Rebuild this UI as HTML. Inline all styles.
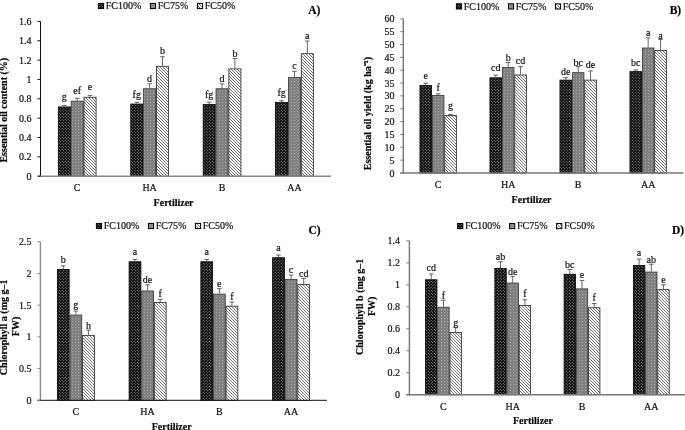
<!DOCTYPE html>
<html><head><meta charset="utf-8"><style>
html,body{margin:0;padding:0;background:#fff;}
text{stroke:#111;stroke-width:0.2px;}
body{filter:grayscale(1) blur(0.3px);width:685px;height:430px;position:relative;overflow:hidden;font-family:"Liberation Serif",serif;}
</style></head><body>
<svg width="685" height="430" viewBox="0 0 685 430" style="position:absolute;left:0;top:0">

<defs>
 <pattern id="pBlack" patternUnits="userSpaceOnUse" width="3" height="3">
   <rect width="3" height="3" fill="#0c0c0c"/>
   <circle cx="0.75" cy="0.75" r="0.5" fill="#b0b0b0"/>
   <circle cx="2.25" cy="2.25" r="0.5" fill="#b0b0b0"/>
 </pattern>
 <pattern id="pGray" patternUnits="userSpaceOnUse" width="3" height="3">
   <rect width="3" height="3" fill="#7c7c7c"/>
   <circle cx="0.75" cy="0.75" r="0.5" fill="#d8d8d8"/>
   <circle cx="2.25" cy="2.25" r="0.35" fill="#a8a8a8"/>
 </pattern>
 <pattern id="pHatch" patternUnits="userSpaceOnUse" width="3" height="3">
   <rect width="3" height="3" fill="#fff"/>
   <path d="M-1,-1 L4,4 M-1,2 L1,4 M2,-1 L4,1" stroke="#383838" stroke-width="0.7"/>
 </pattern>
</defs>

<rect x="58.33" y="106.94" width="12.05" height="69.26" fill="url(#pBlack)" stroke="#000" stroke-width="0.8"/>
<line x1="64.35" y1="106.54" x2="64.35" y2="105.57" stroke="#555" stroke-width="0.9"/>
<line x1="62.05" y1="105.57" x2="66.65" y2="105.57" stroke="#555" stroke-width="0.9"/>
<text x="64.35" y="99.70" font-family='"Liberation Serif", serif' font-size="10" text-anchor="middle" fill="#111">g</text>
<rect x="71.18" y="101.14" width="12.05" height="75.06" fill="url(#pGray)" stroke="#333" stroke-width="0.8"/>
<line x1="77.20" y1="100.73" x2="77.20" y2="98.22" stroke="#555" stroke-width="0.9"/>
<line x1="74.90" y1="98.22" x2="79.50" y2="98.22" stroke="#555" stroke-width="0.9"/>
<text x="77.20" y="94.00" font-family='"Liberation Serif", serif' font-size="10" text-anchor="middle" fill="#111">ef</text>
<rect x="84.03" y="97.27" width="12.05" height="78.93" fill="url(#pHatch)" stroke="#222" stroke-width="0.8"/>
<line x1="90.05" y1="96.87" x2="90.05" y2="95.41" stroke="#555" stroke-width="0.9"/>
<line x1="87.75" y1="95.41" x2="92.35" y2="95.41" stroke="#555" stroke-width="0.9"/>
<text x="90.05" y="89.80" font-family='"Liberation Serif", serif' font-size="10" text-anchor="middle" fill="#111">e</text>
<text x="77.20" y="191.20" font-family='"Liberation Serif", serif' font-size="10" text-anchor="middle" fill="#111">C</text>
<rect x="130.75" y="104.04" width="12.05" height="72.16" fill="url(#pBlack)" stroke="#000" stroke-width="0.8"/>
<line x1="136.77" y1="103.64" x2="136.77" y2="102.19" stroke="#555" stroke-width="0.9"/>
<line x1="134.47" y1="102.19" x2="139.07" y2="102.19" stroke="#555" stroke-width="0.9"/>
<text x="136.77" y="97.70" font-family='"Liberation Serif", serif' font-size="10" text-anchor="middle" fill="#111">fg</text>
<rect x="143.59" y="88.75" width="12.05" height="87.45" fill="url(#pGray)" stroke="#333" stroke-width="0.8"/>
<line x1="149.62" y1="88.35" x2="149.62" y2="83.80" stroke="#555" stroke-width="0.9"/>
<line x1="147.32" y1="83.80" x2="151.92" y2="83.80" stroke="#555" stroke-width="0.9"/>
<text x="149.62" y="81.90" font-family='"Liberation Serif", serif' font-size="10" text-anchor="middle" fill="#111">d</text>
<rect x="156.44" y="66.31" width="12.05" height="109.89" fill="url(#pHatch)" stroke="#222" stroke-width="0.8"/>
<line x1="162.47" y1="65.91" x2="162.47" y2="56.71" stroke="#555" stroke-width="0.9"/>
<line x1="160.17" y1="56.71" x2="164.77" y2="56.71" stroke="#555" stroke-width="0.9"/>
<text x="162.47" y="54.30" font-family='"Liberation Serif", serif' font-size="10" text-anchor="middle" fill="#111">b</text>
<text x="149.62" y="191.20" font-family='"Liberation Serif", serif' font-size="10" text-anchor="middle" fill="#111">HA</text>
<rect x="203.17" y="104.52" width="12.05" height="71.68" fill="url(#pBlack)" stroke="#000" stroke-width="0.8"/>
<line x1="209.19" y1="104.12" x2="209.19" y2="102.19" stroke="#555" stroke-width="0.9"/>
<line x1="206.89" y1="102.19" x2="211.49" y2="102.19" stroke="#555" stroke-width="0.9"/>
<text x="209.19" y="97.70" font-family='"Liberation Serif", serif' font-size="10" text-anchor="middle" fill="#111">fg</text>
<rect x="216.02" y="88.75" width="12.05" height="87.45" fill="url(#pGray)" stroke="#333" stroke-width="0.8"/>
<line x1="222.04" y1="88.35" x2="222.04" y2="83.80" stroke="#555" stroke-width="0.9"/>
<line x1="219.74" y1="83.80" x2="224.34" y2="83.80" stroke="#555" stroke-width="0.9"/>
<text x="222.04" y="82.30" font-family='"Liberation Serif", serif' font-size="10" text-anchor="middle" fill="#111">d</text>
<rect x="228.87" y="68.92" width="12.05" height="107.28" fill="url(#pHatch)" stroke="#222" stroke-width="0.8"/>
<line x1="234.89" y1="68.52" x2="234.89" y2="58.46" stroke="#555" stroke-width="0.9"/>
<line x1="232.59" y1="58.46" x2="237.19" y2="58.46" stroke="#555" stroke-width="0.9"/>
<text x="234.89" y="57.00" font-family='"Liberation Serif", serif' font-size="10" text-anchor="middle" fill="#111">b</text>
<text x="222.04" y="191.20" font-family='"Liberation Serif", serif' font-size="10" text-anchor="middle" fill="#111">B</text>
<rect x="275.58" y="102.59" width="12.05" height="73.61" fill="url(#pBlack)" stroke="#000" stroke-width="0.8"/>
<line x1="281.61" y1="102.19" x2="281.61" y2="100.73" stroke="#555" stroke-width="0.9"/>
<line x1="279.31" y1="100.73" x2="283.91" y2="100.73" stroke="#555" stroke-width="0.9"/>
<text x="281.61" y="95.50" font-family='"Liberation Serif", serif' font-size="10" text-anchor="middle" fill="#111">fg</text>
<rect x="288.44" y="77.43" width="12.05" height="98.77" fill="url(#pGray)" stroke="#333" stroke-width="0.8"/>
<line x1="294.46" y1="77.03" x2="294.46" y2="71.32" stroke="#555" stroke-width="0.9"/>
<line x1="292.16" y1="71.32" x2="296.76" y2="71.32" stroke="#555" stroke-width="0.9"/>
<text x="294.46" y="69.20" font-family='"Liberation Serif", serif' font-size="10" text-anchor="middle" fill="#111">c</text>
<rect x="301.28" y="53.73" width="12.05" height="122.47" fill="url(#pHatch)" stroke="#222" stroke-width="0.8"/>
<line x1="307.31" y1="53.33" x2="307.31" y2="41.04" stroke="#555" stroke-width="0.9"/>
<line x1="305.01" y1="41.04" x2="309.61" y2="41.04" stroke="#555" stroke-width="0.9"/>
<text x="307.31" y="39.30" font-family='"Liberation Serif", serif' font-size="10" text-anchor="middle" fill="#111">a</text>
<text x="294.46" y="191.20" font-family='"Liberation Serif", serif' font-size="10" text-anchor="middle" fill="#111">AA</text>
<line x1="40.50" y1="21.40" x2="40.50" y2="176.20" stroke="#111" stroke-width="1.0"/>
<line x1="38.00" y1="176.20" x2="331.00" y2="176.20" stroke="#888" stroke-width="1.4"/>
<line x1="37.50" y1="176.20" x2="40.50" y2="176.20" stroke="#111" stroke-width="1"/>
<text x="31.50" y="179.70" font-family='"Liberation Serif", serif' font-size="10" text-anchor="end" fill="#111">0</text>
<line x1="37.50" y1="156.85" x2="40.50" y2="156.85" stroke="#111" stroke-width="1"/>
<text x="31.50" y="160.35" font-family='"Liberation Serif", serif' font-size="10" text-anchor="end" fill="#111">0.2</text>
<line x1="37.50" y1="137.50" x2="40.50" y2="137.50" stroke="#111" stroke-width="1"/>
<text x="31.50" y="141.00" font-family='"Liberation Serif", serif' font-size="10" text-anchor="end" fill="#111">0.4</text>
<line x1="37.50" y1="118.15" x2="40.50" y2="118.15" stroke="#111" stroke-width="1"/>
<text x="31.50" y="121.65" font-family='"Liberation Serif", serif' font-size="10" text-anchor="end" fill="#111">0.6</text>
<line x1="37.50" y1="98.80" x2="40.50" y2="98.80" stroke="#111" stroke-width="1"/>
<text x="31.50" y="102.30" font-family='"Liberation Serif", serif' font-size="10" text-anchor="end" fill="#111">0.8</text>
<line x1="37.50" y1="79.45" x2="40.50" y2="79.45" stroke="#111" stroke-width="1"/>
<text x="31.50" y="82.95" font-family='"Liberation Serif", serif' font-size="10" text-anchor="end" fill="#111">1</text>
<line x1="37.50" y1="60.10" x2="40.50" y2="60.10" stroke="#111" stroke-width="1"/>
<text x="31.50" y="63.60" font-family='"Liberation Serif", serif' font-size="10" text-anchor="end" fill="#111">1.2</text>
<line x1="37.50" y1="40.75" x2="40.50" y2="40.75" stroke="#111" stroke-width="1"/>
<text x="31.50" y="44.25" font-family='"Liberation Serif", serif' font-size="10" text-anchor="end" fill="#111">1.4</text>
<line x1="37.50" y1="21.40" x2="40.50" y2="21.40" stroke="#111" stroke-width="1"/>
<text x="31.50" y="24.90" font-family='"Liberation Serif", serif' font-size="10" text-anchor="end" fill="#111">1.6</text>
<rect x="98.40" y="3.40" width="5.2" height="5.2" fill="url(#pBlack)" stroke="#000" stroke-width="1"/>
<text x="105.80" y="9.10" font-family='"Liberation Serif", serif' font-size="10" fill="#111">FC100%</text>
<rect x="150.40" y="3.40" width="5.2" height="5.2" fill="#8c8c8c" stroke="#000" stroke-width="1"/>
<text x="157.80" y="9.10" font-family='"Liberation Serif", serif' font-size="10" fill="#111">FC75%</text>
<rect x="197.40" y="3.40" width="5.2" height="5.2" fill="url(#pHatch)" stroke="#000" stroke-width="1"/>
<text x="204.80" y="9.10" font-family='"Liberation Serif", serif' font-size="10" fill="#111">FC50%</text>
<text x="308.30" y="14.20" font-family='"Liberation Serif", serif' font-size="11.5" font-weight="bold" fill="#000">A)</text>
<text x="153.60" y="205.80" font-family='"Liberation Serif", serif' font-size="10" font-weight="bold" fill="#000">Fertilizer</text>
<text transform="translate(7.30,110.20) rotate(-90)" x="0" y="0" font-family='"Liberation Serif", serif' font-size="10" font-weight="bold" text-anchor="middle" fill="#000">Essential oil content (%)</text>
<rect x="419.95" y="85.51" width="11.60" height="87.49" fill="url(#pBlack)" stroke="#000" stroke-width="0.8"/>
<line x1="425.75" y1="85.11" x2="425.75" y2="83.31" stroke="#555" stroke-width="0.9"/>
<line x1="423.45" y1="83.31" x2="428.05" y2="83.31" stroke="#555" stroke-width="0.9"/>
<text x="425.75" y="78.90" font-family='"Liberation Serif", serif' font-size="10" text-anchor="middle" fill="#111">e</text>
<rect x="432.35" y="95.53" width="11.60" height="77.47" fill="url(#pGray)" stroke="#333" stroke-width="0.8"/>
<line x1="438.15" y1="95.13" x2="438.15" y2="93.84" stroke="#555" stroke-width="0.9"/>
<line x1="435.85" y1="93.84" x2="440.45" y2="93.84" stroke="#555" stroke-width="0.9"/>
<text x="438.15" y="90.90" font-family='"Liberation Serif", serif' font-size="10" text-anchor="middle" fill="#111">f</text>
<rect x="444.75" y="115.58" width="11.60" height="57.42" fill="url(#pHatch)" stroke="#222" stroke-width="0.8"/>
<line x1="450.55" y1="115.18" x2="450.55" y2="114.40" stroke="#555" stroke-width="0.9"/>
<line x1="448.25" y1="114.40" x2="452.85" y2="114.40" stroke="#555" stroke-width="0.9"/>
<text x="450.55" y="109.00" font-family='"Liberation Serif", serif' font-size="10" text-anchor="middle" fill="#111">g</text>
<text x="438.15" y="188.30" font-family='"Liberation Serif", serif' font-size="10" text-anchor="middle" fill="#111">C</text>
<rect x="489.95" y="77.80" width="11.60" height="95.20" fill="url(#pBlack)" stroke="#000" stroke-width="0.8"/>
<line x1="495.75" y1="77.40" x2="495.75" y2="75.08" stroke="#555" stroke-width="0.9"/>
<line x1="493.45" y1="75.08" x2="498.05" y2="75.08" stroke="#555" stroke-width="0.9"/>
<text x="495.75" y="71.30" font-family='"Liberation Serif", serif' font-size="10" text-anchor="middle" fill="#111">cd</text>
<rect x="502.35" y="67.52" width="11.60" height="105.48" fill="url(#pGray)" stroke="#333" stroke-width="0.8"/>
<line x1="508.15" y1="67.12" x2="508.15" y2="62.49" stroke="#555" stroke-width="0.9"/>
<line x1="505.85" y1="62.49" x2="510.45" y2="62.49" stroke="#555" stroke-width="0.9"/>
<text x="508.15" y="60.90" font-family='"Liberation Serif", serif' font-size="10" text-anchor="middle" fill="#111">b</text>
<rect x="514.75" y="74.97" width="11.60" height="98.03" fill="url(#pHatch)" stroke="#222" stroke-width="0.8"/>
<line x1="520.55" y1="74.57" x2="520.55" y2="66.60" stroke="#555" stroke-width="0.9"/>
<line x1="518.25" y1="66.60" x2="522.85" y2="66.60" stroke="#555" stroke-width="0.9"/>
<text x="520.55" y="64.30" font-family='"Liberation Serif", serif' font-size="10" text-anchor="middle" fill="#111">cd</text>
<text x="508.15" y="188.30" font-family='"Liberation Serif", serif' font-size="10" text-anchor="middle" fill="#111">HA</text>
<rect x="559.95" y="80.11" width="11.60" height="92.89" fill="url(#pBlack)" stroke="#000" stroke-width="0.8"/>
<line x1="565.75" y1="79.71" x2="565.75" y2="77.65" stroke="#555" stroke-width="0.9"/>
<line x1="563.45" y1="77.65" x2="568.05" y2="77.65" stroke="#555" stroke-width="0.9"/>
<text x="565.75" y="74.50" font-family='"Liberation Serif", serif' font-size="10" text-anchor="middle" fill="#111">de</text>
<rect x="572.35" y="72.66" width="11.60" height="100.34" fill="url(#pGray)" stroke="#333" stroke-width="0.8"/>
<line x1="578.15" y1="72.26" x2="578.15" y2="66.60" stroke="#555" stroke-width="0.9"/>
<line x1="575.85" y1="66.60" x2="580.45" y2="66.60" stroke="#555" stroke-width="0.9"/>
<text x="578.15" y="66.20" font-family='"Liberation Serif", serif' font-size="10" text-anchor="middle" fill="#111">bc</text>
<rect x="584.75" y="80.11" width="11.60" height="92.89" fill="url(#pHatch)" stroke="#222" stroke-width="0.8"/>
<line x1="590.55" y1="79.71" x2="590.55" y2="70.97" stroke="#555" stroke-width="0.9"/>
<line x1="588.25" y1="70.97" x2="592.85" y2="70.97" stroke="#555" stroke-width="0.9"/>
<text x="590.55" y="68.10" font-family='"Liberation Serif", serif' font-size="10" text-anchor="middle" fill="#111">de</text>
<text x="578.15" y="188.30" font-family='"Liberation Serif", serif' font-size="10" text-anchor="middle" fill="#111">B</text>
<rect x="629.95" y="71.63" width="11.60" height="101.37" fill="url(#pBlack)" stroke="#000" stroke-width="0.8"/>
<line x1="635.75" y1="71.23" x2="635.75" y2="69.94" stroke="#555" stroke-width="0.9"/>
<line x1="633.45" y1="69.94" x2="638.05" y2="69.94" stroke="#555" stroke-width="0.9"/>
<text x="635.75" y="65.60" font-family='"Liberation Serif", serif' font-size="10" text-anchor="middle" fill="#111">bc</text>
<rect x="642.35" y="47.98" width="11.60" height="125.02" fill="url(#pGray)" stroke="#333" stroke-width="0.8"/>
<line x1="648.15" y1="47.58" x2="648.15" y2="37.82" stroke="#555" stroke-width="0.9"/>
<line x1="645.85" y1="37.82" x2="650.45" y2="37.82" stroke="#555" stroke-width="0.9"/>
<text x="648.15" y="36.00" font-family='"Liberation Serif", serif' font-size="10" text-anchor="middle" fill="#111">a</text>
<rect x="654.75" y="50.55" width="11.60" height="122.45" fill="url(#pHatch)" stroke="#222" stroke-width="0.8"/>
<line x1="660.55" y1="50.15" x2="660.55" y2="39.36" stroke="#555" stroke-width="0.9"/>
<line x1="658.25" y1="39.36" x2="662.85" y2="39.36" stroke="#555" stroke-width="0.9"/>
<text x="660.55" y="39.00" font-family='"Liberation Serif", serif' font-size="10" text-anchor="middle" fill="#111">a</text>
<text x="648.15" y="188.30" font-family='"Liberation Serif", serif' font-size="10" text-anchor="middle" fill="#111">AA</text>
<line x1="403.30" y1="18.80" x2="403.30" y2="173.00" stroke="#777" stroke-width="1.4"/>
<line x1="400.50" y1="173.00" x2="683.30" y2="173.00" stroke="#777" stroke-width="1.4"/>
<line x1="400.30" y1="173.00" x2="403.30" y2="173.00" stroke="#777" stroke-width="1"/>
<text x="394.50" y="176.50" font-family='"Liberation Serif", serif' font-size="10" text-anchor="end" fill="#111">0</text>
<line x1="400.30" y1="160.15" x2="403.30" y2="160.15" stroke="#777" stroke-width="1"/>
<text x="394.50" y="163.65" font-family='"Liberation Serif", serif' font-size="10" text-anchor="end" fill="#111">5</text>
<line x1="400.30" y1="147.30" x2="403.30" y2="147.30" stroke="#777" stroke-width="1"/>
<text x="394.50" y="150.80" font-family='"Liberation Serif", serif' font-size="10" text-anchor="end" fill="#111">10</text>
<line x1="400.30" y1="134.45" x2="403.30" y2="134.45" stroke="#777" stroke-width="1"/>
<text x="394.50" y="137.95" font-family='"Liberation Serif", serif' font-size="10" text-anchor="end" fill="#111">15</text>
<line x1="400.30" y1="121.60" x2="403.30" y2="121.60" stroke="#777" stroke-width="1"/>
<text x="394.50" y="125.10" font-family='"Liberation Serif", serif' font-size="10" text-anchor="end" fill="#111">20</text>
<line x1="400.30" y1="108.75" x2="403.30" y2="108.75" stroke="#777" stroke-width="1"/>
<text x="394.50" y="112.25" font-family='"Liberation Serif", serif' font-size="10" text-anchor="end" fill="#111">25</text>
<line x1="400.30" y1="95.90" x2="403.30" y2="95.90" stroke="#777" stroke-width="1"/>
<text x="394.50" y="99.40" font-family='"Liberation Serif", serif' font-size="10" text-anchor="end" fill="#111">30</text>
<line x1="400.30" y1="83.05" x2="403.30" y2="83.05" stroke="#777" stroke-width="1"/>
<text x="394.50" y="86.55" font-family='"Liberation Serif", serif' font-size="10" text-anchor="end" fill="#111">35</text>
<line x1="400.30" y1="70.20" x2="403.30" y2="70.20" stroke="#777" stroke-width="1"/>
<text x="394.50" y="73.70" font-family='"Liberation Serif", serif' font-size="10" text-anchor="end" fill="#111">40</text>
<line x1="400.30" y1="57.35" x2="403.30" y2="57.35" stroke="#777" stroke-width="1"/>
<text x="394.50" y="60.85" font-family='"Liberation Serif", serif' font-size="10" text-anchor="end" fill="#111">45</text>
<line x1="400.30" y1="44.50" x2="403.30" y2="44.50" stroke="#777" stroke-width="1"/>
<text x="394.50" y="48.00" font-family='"Liberation Serif", serif' font-size="10" text-anchor="end" fill="#111">50</text>
<line x1="400.30" y1="31.65" x2="403.30" y2="31.65" stroke="#777" stroke-width="1"/>
<text x="394.50" y="35.15" font-family='"Liberation Serif", serif' font-size="10" text-anchor="end" fill="#111">55</text>
<line x1="400.30" y1="18.80" x2="403.30" y2="18.80" stroke="#777" stroke-width="1"/>
<text x="394.50" y="22.30" font-family='"Liberation Serif", serif' font-size="10" text-anchor="end" fill="#111">60</text>
<rect x="456.40" y="3.80" width="5.2" height="5.2" fill="url(#pBlack)" stroke="#000" stroke-width="1"/>
<text x="463.80" y="9.50" font-family='"Liberation Serif", serif' font-size="10" fill="#111">FC100%</text>
<rect x="508.40" y="3.80" width="5.2" height="5.2" fill="#8c8c8c" stroke="#000" stroke-width="1"/>
<text x="515.80" y="9.50" font-family='"Liberation Serif", serif' font-size="10" fill="#111">FC75%</text>
<rect x="555.40" y="3.80" width="5.2" height="5.2" fill="url(#pHatch)" stroke="#000" stroke-width="1"/>
<text x="562.80" y="9.50" font-family='"Liberation Serif", serif' font-size="10" fill="#111">FC50%</text>
<text x="669.70" y="14.10" font-family='"Liberation Serif", serif' font-size="11.5" font-weight="bold" fill="#000">B)</text>
<text x="511.60" y="202.70" font-family='"Liberation Serif", serif' font-size="10" font-weight="bold" fill="#000">Fertilizer</text>
<text transform="translate(370.80,113.60) rotate(-90)" x="0" y="0" font-family='"Liberation Serif", serif' font-size="10" font-weight="bold" text-anchor="middle" fill="#000">Essential oil yield (kg ha⁻¹)</text>
<rect x="57.35" y="269.38" width="11.80" height="130.92" fill="url(#pBlack)" stroke="#000" stroke-width="0.8"/>
<line x1="63.25" y1="268.98" x2="63.25" y2="265.81" stroke="#555" stroke-width="0.9"/>
<line x1="60.95" y1="265.81" x2="65.55" y2="265.81" stroke="#555" stroke-width="0.9"/>
<text x="63.25" y="262.60" font-family='"Liberation Serif", serif' font-size="10" text-anchor="middle" fill="#111">b</text>
<rect x="69.95" y="315.06" width="11.80" height="85.24" fill="url(#pGray)" stroke="#333" stroke-width="0.8"/>
<line x1="75.85" y1="314.66" x2="75.85" y2="311.10" stroke="#555" stroke-width="0.9"/>
<line x1="73.55" y1="311.10" x2="78.15" y2="311.10" stroke="#555" stroke-width="0.9"/>
<text x="75.85" y="308.10" font-family='"Liberation Serif", serif' font-size="10" text-anchor="middle" fill="#111">g</text>
<rect x="82.55" y="335.36" width="11.80" height="64.94" fill="url(#pHatch)" stroke="#222" stroke-width="0.8"/>
<line x1="88.45" y1="334.96" x2="88.45" y2="330.07" stroke="#555" stroke-width="0.9"/>
<line x1="86.15" y1="330.07" x2="90.75" y2="330.07" stroke="#555" stroke-width="0.9"/>
<text x="88.45" y="329.00" font-family='"Liberation Serif", serif' font-size="10" text-anchor="middle" fill="#111">h</text>
<text x="75.85" y="415.40" font-family='"Liberation Serif", serif' font-size="10" text-anchor="middle" fill="#111">C</text>
<rect x="129.10" y="261.77" width="11.80" height="138.53" fill="url(#pBlack)" stroke="#000" stroke-width="0.8"/>
<line x1="135.00" y1="261.37" x2="135.00" y2="259.46" stroke="#555" stroke-width="0.9"/>
<line x1="132.70" y1="259.46" x2="137.30" y2="259.46" stroke="#555" stroke-width="0.9"/>
<text x="135.00" y="255.20" font-family='"Liberation Serif", serif' font-size="10" text-anchor="middle" fill="#111">a</text>
<rect x="141.70" y="290.95" width="11.80" height="109.35" fill="url(#pGray)" stroke="#333" stroke-width="0.8"/>
<line x1="147.60" y1="290.55" x2="147.60" y2="284.84" stroke="#555" stroke-width="0.9"/>
<line x1="145.30" y1="284.84" x2="149.90" y2="284.84" stroke="#555" stroke-width="0.9"/>
<text x="147.60" y="283.30" font-family='"Liberation Serif", serif' font-size="10" text-anchor="middle" fill="#111">de</text>
<rect x="154.30" y="302.37" width="11.80" height="97.93" fill="url(#pHatch)" stroke="#222" stroke-width="0.8"/>
<line x1="160.20" y1="301.97" x2="160.20" y2="299.43" stroke="#555" stroke-width="0.9"/>
<line x1="157.90" y1="299.43" x2="162.50" y2="299.43" stroke="#555" stroke-width="0.9"/>
<text x="160.20" y="296.50" font-family='"Liberation Serif", serif' font-size="10" text-anchor="middle" fill="#111">f</text>
<text x="147.60" y="415.40" font-family='"Liberation Serif", serif' font-size="10" text-anchor="middle" fill="#111">HA</text>
<rect x="200.85" y="261.77" width="11.80" height="138.53" fill="url(#pBlack)" stroke="#000" stroke-width="0.8"/>
<line x1="206.75" y1="261.37" x2="206.75" y2="259.46" stroke="#555" stroke-width="0.9"/>
<line x1="204.45" y1="259.46" x2="209.05" y2="259.46" stroke="#555" stroke-width="0.9"/>
<text x="206.75" y="255.20" font-family='"Liberation Serif", serif' font-size="10" text-anchor="middle" fill="#111">a</text>
<rect x="213.45" y="294.12" width="11.80" height="106.18" fill="url(#pGray)" stroke="#333" stroke-width="0.8"/>
<line x1="219.35" y1="293.72" x2="219.35" y2="288.65" stroke="#555" stroke-width="0.9"/>
<line x1="217.05" y1="288.65" x2="221.65" y2="288.65" stroke="#555" stroke-width="0.9"/>
<text x="219.35" y="287.10" font-family='"Liberation Serif", serif' font-size="10" text-anchor="middle" fill="#111">e</text>
<rect x="226.05" y="306.17" width="11.80" height="94.13" fill="url(#pHatch)" stroke="#222" stroke-width="0.8"/>
<line x1="231.95" y1="305.77" x2="231.95" y2="301.97" stroke="#555" stroke-width="0.9"/>
<line x1="229.65" y1="301.97" x2="234.25" y2="301.97" stroke="#555" stroke-width="0.9"/>
<text x="231.95" y="299.80" font-family='"Liberation Serif", serif' font-size="10" text-anchor="middle" fill="#111">f</text>
<text x="219.35" y="415.40" font-family='"Liberation Serif", serif' font-size="10" text-anchor="middle" fill="#111">B</text>
<rect x="272.60" y="257.71" width="11.80" height="142.59" fill="url(#pBlack)" stroke="#000" stroke-width="0.8"/>
<line x1="278.50" y1="257.31" x2="278.50" y2="255.02" stroke="#555" stroke-width="0.9"/>
<line x1="276.20" y1="255.02" x2="280.80" y2="255.02" stroke="#555" stroke-width="0.9"/>
<text x="278.50" y="251.20" font-family='"Liberation Serif", serif' font-size="10" text-anchor="middle" fill="#111">a</text>
<rect x="285.20" y="279.53" width="11.80" height="120.77" fill="url(#pGray)" stroke="#333" stroke-width="0.8"/>
<line x1="291.10" y1="279.13" x2="291.10" y2="275.01" stroke="#555" stroke-width="0.9"/>
<line x1="288.80" y1="275.01" x2="293.40" y2="275.01" stroke="#555" stroke-width="0.9"/>
<text x="291.10" y="272.60" font-family='"Liberation Serif", serif' font-size="10" text-anchor="middle" fill="#111">c</text>
<rect x="297.80" y="284.60" width="11.80" height="115.70" fill="url(#pHatch)" stroke="#222" stroke-width="0.8"/>
<line x1="303.70" y1="284.20" x2="303.70" y2="278.50" stroke="#555" stroke-width="0.9"/>
<line x1="301.40" y1="278.50" x2="306.00" y2="278.50" stroke="#555" stroke-width="0.9"/>
<text x="303.70" y="277.20" font-family='"Liberation Serif", serif' font-size="10" text-anchor="middle" fill="#111">cd</text>
<text x="291.10" y="415.40" font-family='"Liberation Serif", serif' font-size="10" text-anchor="middle" fill="#111">AA</text>
<line x1="40.40" y1="241.70" x2="40.40" y2="400.30" stroke="#888" stroke-width="1.4"/>
<line x1="37.20" y1="400.30" x2="327.00" y2="400.30" stroke="#111" stroke-width="1.0"/>
<line x1="37.40" y1="400.30" x2="40.40" y2="400.30" stroke="#888" stroke-width="1"/>
<text x="31.40" y="403.80" font-family='"Liberation Serif", serif' font-size="10" text-anchor="end" fill="#111">0</text>
<line x1="37.40" y1="368.58" x2="40.40" y2="368.58" stroke="#888" stroke-width="1"/>
<text x="31.40" y="372.08" font-family='"Liberation Serif", serif' font-size="10" text-anchor="end" fill="#111">0.5</text>
<line x1="37.40" y1="336.86" x2="40.40" y2="336.86" stroke="#888" stroke-width="1"/>
<text x="31.40" y="340.36" font-family='"Liberation Serif", serif' font-size="10" text-anchor="end" fill="#111">1</text>
<line x1="37.40" y1="305.14" x2="40.40" y2="305.14" stroke="#888" stroke-width="1"/>
<text x="31.40" y="308.64" font-family='"Liberation Serif", serif' font-size="10" text-anchor="end" fill="#111">1.5</text>
<line x1="37.40" y1="273.42" x2="40.40" y2="273.42" stroke="#888" stroke-width="1"/>
<text x="31.40" y="276.92" font-family='"Liberation Serif", serif' font-size="10" text-anchor="end" fill="#111">2</text>
<line x1="37.40" y1="241.70" x2="40.40" y2="241.70" stroke="#888" stroke-width="1"/>
<text x="31.40" y="245.20" font-family='"Liberation Serif", serif' font-size="10" text-anchor="end" fill="#111">2.5</text>
<rect x="96.40" y="223.40" width="5.2" height="5.2" fill="url(#pBlack)" stroke="#000" stroke-width="1"/>
<text x="103.80" y="229.10" font-family='"Liberation Serif", serif' font-size="10" fill="#111">FC100%</text>
<rect x="148.40" y="223.40" width="5.2" height="5.2" fill="#8c8c8c" stroke="#000" stroke-width="1"/>
<text x="155.80" y="229.10" font-family='"Liberation Serif", serif' font-size="10" fill="#111">FC75%</text>
<rect x="195.40" y="223.40" width="5.2" height="5.2" fill="url(#pHatch)" stroke="#000" stroke-width="1"/>
<text x="202.80" y="229.10" font-family='"Liberation Serif", serif' font-size="10" fill="#111">FC50%</text>
<text x="308.40" y="233.60" font-family='"Liberation Serif", serif' font-size="11.5" font-weight="bold" fill="#000">C)</text>
<text x="151.70" y="429.80" font-family='"Liberation Serif", serif' font-size="10" font-weight="bold" fill="#000">Fertilizer</text>
<text transform="translate(7.00,327.30) rotate(-90)" x="0" y="0" font-family='"Liberation Serif", serif' font-size="10" font-weight="bold" text-anchor="middle" fill="#000">Chlorophyll a (mg g–1</text>
<text transform="translate(19.30,326.50) rotate(-90)" x="0" y="0" font-family='"Liberation Serif", serif' font-size="10" font-weight="bold" text-anchor="middle" fill="#000">FW)</text>
<rect x="425.55" y="279.75" width="11.40" height="114.95" fill="url(#pBlack)" stroke="#000" stroke-width="0.8"/>
<line x1="431.25" y1="279.35" x2="431.25" y2="273.97" stroke="#555" stroke-width="0.9"/>
<line x1="428.95" y1="273.97" x2="433.55" y2="273.97" stroke="#555" stroke-width="0.9"/>
<text x="431.25" y="270.90" font-family='"Liberation Serif", serif' font-size="10" text-anchor="middle" fill="#111">cd</text>
<rect x="437.75" y="307.21" width="11.40" height="87.49" fill="url(#pGray)" stroke="#333" stroke-width="0.8"/>
<line x1="443.45" y1="306.81" x2="443.45" y2="300.22" stroke="#555" stroke-width="0.9"/>
<line x1="441.15" y1="300.22" x2="445.75" y2="300.22" stroke="#555" stroke-width="0.9"/>
<text x="443.45" y="299.20" font-family='"Liberation Serif", serif' font-size="10" text-anchor="middle" fill="#111">f</text>
<rect x="449.95" y="332.48" width="11.40" height="62.22" fill="url(#pHatch)" stroke="#222" stroke-width="0.8"/>
<line x1="455.65" y1="332.08" x2="455.65" y2="327.69" stroke="#555" stroke-width="0.9"/>
<line x1="453.35" y1="327.69" x2="457.95" y2="327.69" stroke="#555" stroke-width="0.9"/>
<text x="455.65" y="326.30" font-family='"Liberation Serif", serif' font-size="10" text-anchor="middle" fill="#111">g</text>
<text x="443.45" y="409.80" font-family='"Liberation Serif", serif' font-size="10" text-anchor="middle" fill="#111">C</text>
<rect x="494.83" y="268.54" width="11.40" height="126.16" fill="url(#pBlack)" stroke="#000" stroke-width="0.8"/>
<line x1="500.53" y1="268.14" x2="500.53" y2="261.77" stroke="#555" stroke-width="0.9"/>
<line x1="498.23" y1="261.77" x2="502.83" y2="261.77" stroke="#555" stroke-width="0.9"/>
<text x="500.53" y="259.90" font-family='"Liberation Serif", serif' font-size="10" text-anchor="middle" fill="#111">ab</text>
<rect x="507.03" y="283.05" width="11.40" height="111.65" fill="url(#pGray)" stroke="#333" stroke-width="0.8"/>
<line x1="512.73" y1="282.65" x2="512.73" y2="276.38" stroke="#555" stroke-width="0.9"/>
<line x1="510.43" y1="276.38" x2="515.03" y2="276.38" stroke="#555" stroke-width="0.9"/>
<text x="512.73" y="274.70" font-family='"Liberation Serif", serif' font-size="10" text-anchor="middle" fill="#111">de</text>
<rect x="519.23" y="305.46" width="11.40" height="89.24" fill="url(#pHatch)" stroke="#222" stroke-width="0.8"/>
<line x1="524.93" y1="305.06" x2="524.93" y2="299.78" stroke="#555" stroke-width="0.9"/>
<line x1="522.63" y1="299.78" x2="527.23" y2="299.78" stroke="#555" stroke-width="0.9"/>
<text x="524.93" y="296.90" font-family='"Liberation Serif", serif' font-size="10" text-anchor="middle" fill="#111">f</text>
<text x="512.73" y="409.80" font-family='"Liberation Serif", serif' font-size="10" text-anchor="middle" fill="#111">HA</text>
<rect x="564.11" y="274.26" width="11.40" height="120.44" fill="url(#pBlack)" stroke="#000" stroke-width="0.8"/>
<line x1="569.81" y1="273.86" x2="569.81" y2="269.46" stroke="#555" stroke-width="0.9"/>
<line x1="567.51" y1="269.46" x2="572.11" y2="269.46" stroke="#555" stroke-width="0.9"/>
<text x="569.81" y="267.50" font-family='"Liberation Serif", serif' font-size="10" text-anchor="middle" fill="#111">bc</text>
<rect x="576.31" y="288.87" width="11.40" height="105.83" fill="url(#pGray)" stroke="#333" stroke-width="0.8"/>
<line x1="582.01" y1="288.47" x2="582.01" y2="280.45" stroke="#555" stroke-width="0.9"/>
<line x1="579.71" y1="280.45" x2="584.31" y2="280.45" stroke="#555" stroke-width="0.9"/>
<text x="582.01" y="277.60" font-family='"Liberation Serif", serif' font-size="10" text-anchor="middle" fill="#111">e</text>
<rect x="588.51" y="307.76" width="11.40" height="86.94" fill="url(#pHatch)" stroke="#222" stroke-width="0.8"/>
<line x1="594.21" y1="307.36" x2="594.21" y2="303.52" stroke="#555" stroke-width="0.9"/>
<line x1="591.91" y1="303.52" x2="596.51" y2="303.52" stroke="#555" stroke-width="0.9"/>
<text x="594.21" y="301.10" font-family='"Liberation Serif", serif' font-size="10" text-anchor="middle" fill="#111">f</text>
<text x="582.01" y="409.80" font-family='"Liberation Serif", serif' font-size="10" text-anchor="middle" fill="#111">B</text>
<rect x="633.39" y="265.47" width="11.40" height="129.23" fill="url(#pBlack)" stroke="#000" stroke-width="0.8"/>
<line x1="639.09" y1="265.07" x2="639.09" y2="259.03" stroke="#555" stroke-width="0.9"/>
<line x1="636.79" y1="259.03" x2="641.39" y2="259.03" stroke="#555" stroke-width="0.9"/>
<text x="639.09" y="255.80" font-family='"Liberation Serif", serif' font-size="10" text-anchor="middle" fill="#111">a</text>
<rect x="645.59" y="272.06" width="11.40" height="122.64" fill="url(#pGray)" stroke="#333" stroke-width="0.8"/>
<line x1="651.29" y1="271.66" x2="651.29" y2="264.19" stroke="#555" stroke-width="0.9"/>
<line x1="648.99" y1="264.19" x2="653.59" y2="264.19" stroke="#555" stroke-width="0.9"/>
<text x="651.29" y="263.30" font-family='"Liberation Serif", serif' font-size="10" text-anchor="middle" fill="#111">ab</text>
<rect x="657.79" y="289.64" width="11.40" height="105.06" fill="url(#pHatch)" stroke="#222" stroke-width="0.8"/>
<line x1="663.49" y1="289.24" x2="663.49" y2="284.84" stroke="#555" stroke-width="0.9"/>
<line x1="661.19" y1="284.84" x2="665.79" y2="284.84" stroke="#555" stroke-width="0.9"/>
<text x="663.49" y="283.20" font-family='"Liberation Serif", serif' font-size="10" text-anchor="middle" fill="#111">e</text>
<text x="651.29" y="409.80" font-family='"Liberation Serif", serif' font-size="10" text-anchor="middle" fill="#111">AA</text>
<line x1="409.40" y1="240.90" x2="409.40" y2="394.70" stroke="#777" stroke-width="1.4"/>
<line x1="406.50" y1="394.70" x2="688.00" y2="394.70" stroke="#777" stroke-width="1.4"/>
<line x1="406.40" y1="394.70" x2="409.40" y2="394.70" stroke="#777" stroke-width="1"/>
<text x="400.00" y="398.20" font-family='"Liberation Serif", serif' font-size="10" text-anchor="end" fill="#111">0</text>
<line x1="406.40" y1="372.73" x2="409.40" y2="372.73" stroke="#777" stroke-width="1"/>
<text x="400.00" y="376.23" font-family='"Liberation Serif", serif' font-size="10" text-anchor="end" fill="#111">0.2</text>
<line x1="406.40" y1="350.76" x2="409.40" y2="350.76" stroke="#777" stroke-width="1"/>
<text x="400.00" y="354.26" font-family='"Liberation Serif", serif' font-size="10" text-anchor="end" fill="#111">0.4</text>
<line x1="406.40" y1="328.79" x2="409.40" y2="328.79" stroke="#777" stroke-width="1"/>
<text x="400.00" y="332.29" font-family='"Liberation Serif", serif' font-size="10" text-anchor="end" fill="#111">0.6</text>
<line x1="406.40" y1="306.81" x2="409.40" y2="306.81" stroke="#777" stroke-width="1"/>
<text x="400.00" y="310.31" font-family='"Liberation Serif", serif' font-size="10" text-anchor="end" fill="#111">0.8</text>
<line x1="406.40" y1="284.84" x2="409.40" y2="284.84" stroke="#777" stroke-width="1"/>
<text x="400.00" y="288.34" font-family='"Liberation Serif", serif' font-size="10" text-anchor="end" fill="#111">1</text>
<line x1="406.40" y1="262.87" x2="409.40" y2="262.87" stroke="#777" stroke-width="1"/>
<text x="400.00" y="266.37" font-family='"Liberation Serif", serif' font-size="10" text-anchor="end" fill="#111">1.2</text>
<line x1="406.40" y1="240.90" x2="409.40" y2="240.90" stroke="#777" stroke-width="1"/>
<text x="400.00" y="244.40" font-family='"Liberation Serif", serif' font-size="10" text-anchor="end" fill="#111">1.4</text>
<rect x="457.60" y="223.50" width="5.2" height="5.2" fill="url(#pBlack)" stroke="#000" stroke-width="1"/>
<text x="465.00" y="229.20" font-family='"Liberation Serif", serif' font-size="10" fill="#111">FC100%</text>
<rect x="509.60" y="223.50" width="5.2" height="5.2" fill="#8c8c8c" stroke="#000" stroke-width="1"/>
<text x="517.00" y="229.20" font-family='"Liberation Serif", serif' font-size="10" fill="#111">FC75%</text>
<rect x="556.60" y="223.50" width="5.2" height="5.2" fill="url(#pHatch)" stroke="#000" stroke-width="1"/>
<text x="564.00" y="229.20" font-family='"Liberation Serif", serif' font-size="10" fill="#111">FC50%</text>
<text x="671.90" y="233.60" font-family='"Liberation Serif", serif' font-size="11.5" font-weight="bold" fill="#000">D)</text>
<text x="513.00" y="423.90" font-family='"Liberation Serif", serif' font-size="10" font-weight="bold" fill="#000">Fertilizer</text>
<text transform="translate(363.30,306.80) rotate(-90)" x="0" y="0" font-family='"Liberation Serif", serif' font-size="10" font-weight="bold" text-anchor="middle" fill="#000">Chlorophyll b (mg g–1</text>
<text transform="translate(374.50,306.30) rotate(-90)" x="0" y="0" font-family='"Liberation Serif", serif' font-size="10" font-weight="bold" text-anchor="middle" fill="#000">FW)</text>
</svg>
</body></html>
